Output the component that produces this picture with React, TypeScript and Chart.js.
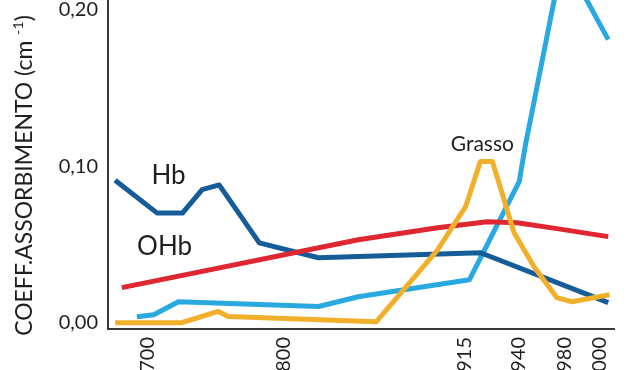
import React, { useEffect, useRef } from "react";
import { Chart, LinearScale, registerables } from "chart.js";

Chart.register(...registerables);

// ---- data (wavelength nm, absorption coefficient cm^-1) ----
const X_TICKS = [700, 800, 915, 940, 980, 1000];
const Y_TICKS = [0, 0.1, 0.2];

const HB_X = [676, 707, 725.5, 740, 752.5, 782, 822, 922.5, 1005];
const HB_Y = [0.091, 0.07, 0.07, 0.085, 0.088, 0.051, 0.0415, 0.0447, 0.0128];

const OHB_X = [681, 847.4, 897.9, 925.6, 939.5, 973.2, 1005];
const OHB_Y = [0.0224, 0.053, 0.0607, 0.0645, 0.0639, 0.0601, 0.055];

const WATER_X = [692, 704.4, 722.6, 822.1, 847.4, 917.3, 940.9, 946, 978.3, 1005];
const WATER_Y = [0.0038, 0.0051, 0.0134, 0.0104, 0.0166, 0.0275, 0.0901, 0.1125, 0.234, 0.1808];

const FAT_X = [676, 724.8, 751.8, 759.1, 858.8, 897.9, 915.5, 922.4, 928, 938.1, 953.6, 973.2, 984, 1005.7];
const FAT_Y = [0, 0, 0.0072, 0.004, 0.0006, 0.0466, 0.0741, 0.1029, 0.1029, 0.0575, 0.0358, 0.016, 0.0134, 0.0179];

const LABEL_TEXT = ["Hb", "OHb", "Grasso"];
const LABEL_X = [715.3, 712.4, 923.3];
const LABEL_Y = [0.0939, 0.0486, 0.1137];

// non-uniform (hand-drawn) wavelength axis: value -> fraction of plot width
const WARP_V = [670.8, 700, 800, 915, 940, 980, 1000, 1008.6];
const WARP_F = [0, 0.0784, 0.3471, 0.7039, 0.8098, 0.902, 0.9706, 1];

function interp(v: number, xs: number[], ys: number[]) {
  const n = xs.length;
  let i = 0;
  if (v <= xs[1]) i = 0;
  else if (v >= xs[n - 2]) i = n - 2;
  else {
    while (i < n - 2 && v > xs[i + 1]) i++;
  }
  const t = (v - xs[i]) / (xs[i + 1] - xs[i]);
  return ys[i] + t * (ys[i + 1] - ys[i]);
}

class WarpScale extends LinearScale {
  static id = "warp";
  getPixelForValue(value: number) {
    const f = interp(value, WARP_V, WARP_F);
    return (this as any).left + f * (this as any).width;
  }
  getValueForPixel(pixel: number) {
    const f = (pixel - (this as any).left) / (this as any).width;
    return interp(f, WARP_F, WARP_V);
  }
}
Chart.register(WarpScale as any);

const pts = (xs: number[], ys: number[]) => xs.map((x, i) => ({ x, y: ys[i] }));

const FONT = "Lato, 'Open Sans', sans-serif";
const TEXT = "#1f1f1f";

const textPlugin = {
  id: "texts",
  afterDatasetsDraw(chart: any) {
    const ctx = chart.ctx as CanvasRenderingContext2D;
    const xs = chart.scales.x;
    const ys = chart.scales.y;
    ctx.save();
    ctx.fillStyle = TEXT;
    ctx.textAlign = "center";
    ctx.textBaseline = "middle";
    const sizes = [26, 26, 21];
    LABEL_TEXT.forEach((t, i) => {
      ctx.font = `${sizes[i]}px ${FONT}`;
      ctx.fillText(t, xs.getPixelForValue(LABEL_X[i]), ys.getPixelForValue(LABEL_Y[i]));
    });
    // y axis title (rotated) with superscript
    const main = "COEFF.ASSORBIMENTO (cm ";
    const sup = "-1";
    const end = ")";
    const big = `23px ${FONT}`;
    const small = `14px ${FONT}`;
    ctx.font = big;
    const wMain = ctx.measureText(main).width;
    const wEnd = ctx.measureText(end).width;
    ctx.font = small;
    const wSup = ctx.measureText(sup).width;
    const total = wMain + wSup + wEnd;
    ctx.translate(32, ys.getPixelForValue(0.094));
    ctx.rotate(-Math.PI / 2);
    ctx.textAlign = "left";
    ctx.textBaseline = "alphabetic";
    const x0 = -total / 2;
    ctx.font = big;
    ctx.fillText(main, x0, 0);
    ctx.font = small;
    ctx.fillText(sup, x0 + wMain, -9);
    ctx.font = big;
    ctx.fillText(end, x0 + wMain + wSup, 0);
    ctx.restore();
  },
};

export default function App() {
  const ref = useRef<HTMLCanvasElement | null>(null);
  useEffect(() => {
    if (!ref.current) return;
    const line = (data: any, color: string) => ({
      data,
      borderColor: color,
      backgroundColor: color,
      borderWidth: 5,
      pointRadius: 0,
      tension: 0,
      fill: false,
      borderJoinStyle: "round" as const,
      clip: false as any,
    });
    const chart = new Chart(ref.current, {
      type: "line",
      data: {
        datasets: [
          line(pts(FAT_X, FAT_Y), "#f2b02a"),
          line(pts(OHB_X, OHB_Y), "#df2732"),
          line(pts(HB_X, HB_Y), "#155c98"),
          line(pts(WATER_X, WATER_Y), "#29a9e0"),
        ],
      },
      options: {
        responsive: false,
        animation: false,
        events: [],
        layout: { padding: { top: 30, right: 14, left: 0, bottom: 0 } },
        plugins: { legend: { display: false }, tooltip: { enabled: false } },
        scales: {
          x: {
            type: "warp" as any,
            min: WARP_V[0],
            max: WARP_V[WARP_V.length - 1],
            afterBuildTicks: (s: any) => {
              s.ticks = X_TICKS.map((v) => ({ value: v }));
            },
            afterFit: (s: any) => {
              s.height = 41;
            },
            grid: { display: false, drawTicks: false },
            border: { display: true, color: "#3a3a3a", width: 2 },
            ticks: {
              autoSkip: false,
              minRotation: 90,
              maxRotation: 90,
              padding: 8,
              color: TEXT,
              font: { family: FONT, size: 20 },
              callback: (v: any) => String(v),
            },
          },
          y: {
            type: "linear",
            min: -0.004,
            max: 0.238,
            afterBuildTicks: (s: any) => {
              s.ticks = Y_TICKS.map((v) => ({ value: v }));
            },
            afterFit: (s: any) => {
              s.width = 108;
            },
            grid: { display: false, drawTicks: false },
            border: { display: true, color: "#3a3a3a", width: 2 },
            ticks: {
              padding: 10,
              color: TEXT,
              font: { family: FONT, size: 20 },
              callback: (v: any) => Number(v).toFixed(2).replace(".", ","),
            },
          },
        },
      },
      plugins: [textPlugin],
    });
    return () => chart.destroy();
  }, []);
  return (
    <div style={{ position: "absolute", left: 0, top: -80, width: 632, height: 450, background: "#fff" }}>
      <canvas ref={ref} width={632} height={450} style={{ display: "block" }} />
    </div>
  );
}
